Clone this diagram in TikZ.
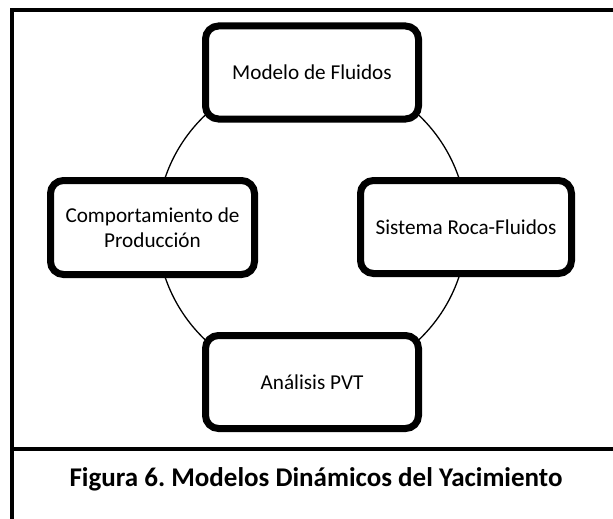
\documentclass[tikz,border=0pt]{standalone}
\usepackage{fontspec}
\setmainfont{Carlito}
\usetikzlibrary{shadows}
\frenchspacing
\begin{document}
\begin{tikzpicture}[x=1pt,y=-1pt,
  box/.style={draw=black, line width=7pt, rounded corners=13pt, fill=white,
    align=center, font=\fontsize{21.2}{25}\selectfont, inner sep=0pt,
    drop shadow={opacity=0.3, shadow xshift=2pt, shadow yshift=-3pt}},
  frameline/.style={line width=4pt, line cap=rect}]
\useasboundingbox (0,0) rectangle (613,519);
\fill[white] (0,0) rectangle (613,519);
% frame
\draw[frameline, line join=miter] (12,519) -- (12,10) -- (613,10);
\draw[line width=3.5pt] (12,449) -- (613,449);
% ring
\node[draw, circle, line width=1.3pt, minimum size=310pt, inner sep=0pt] (ring) at (312,227.5) {};
% boxes
\node[box, minimum width=213pt, minimum height=93pt] (fluidos) at (312,72.5) {Modelo de Fluidos};
\node[box, minimum width=204pt, minimum height=94pt] (prod) at (152.5,227.5) {Comportamiento de\\Producción};
\node[box, minimum width=211pt, minimum height=93pt] (roca) at (466,227) {Sistema Roca-Fluidos};
\node[box, minimum width=213pt, minimum height=93pt] (pvt) at (312,382) {Análisis PVT};
% caption
\node[font=\bfseries\fontsize{27}{32}\selectfont, inner sep=0pt] (caption) at (316,479) {Figura 6. Modelos Dinámicos del Yacimiento};
\end{tikzpicture}
\end{document}
